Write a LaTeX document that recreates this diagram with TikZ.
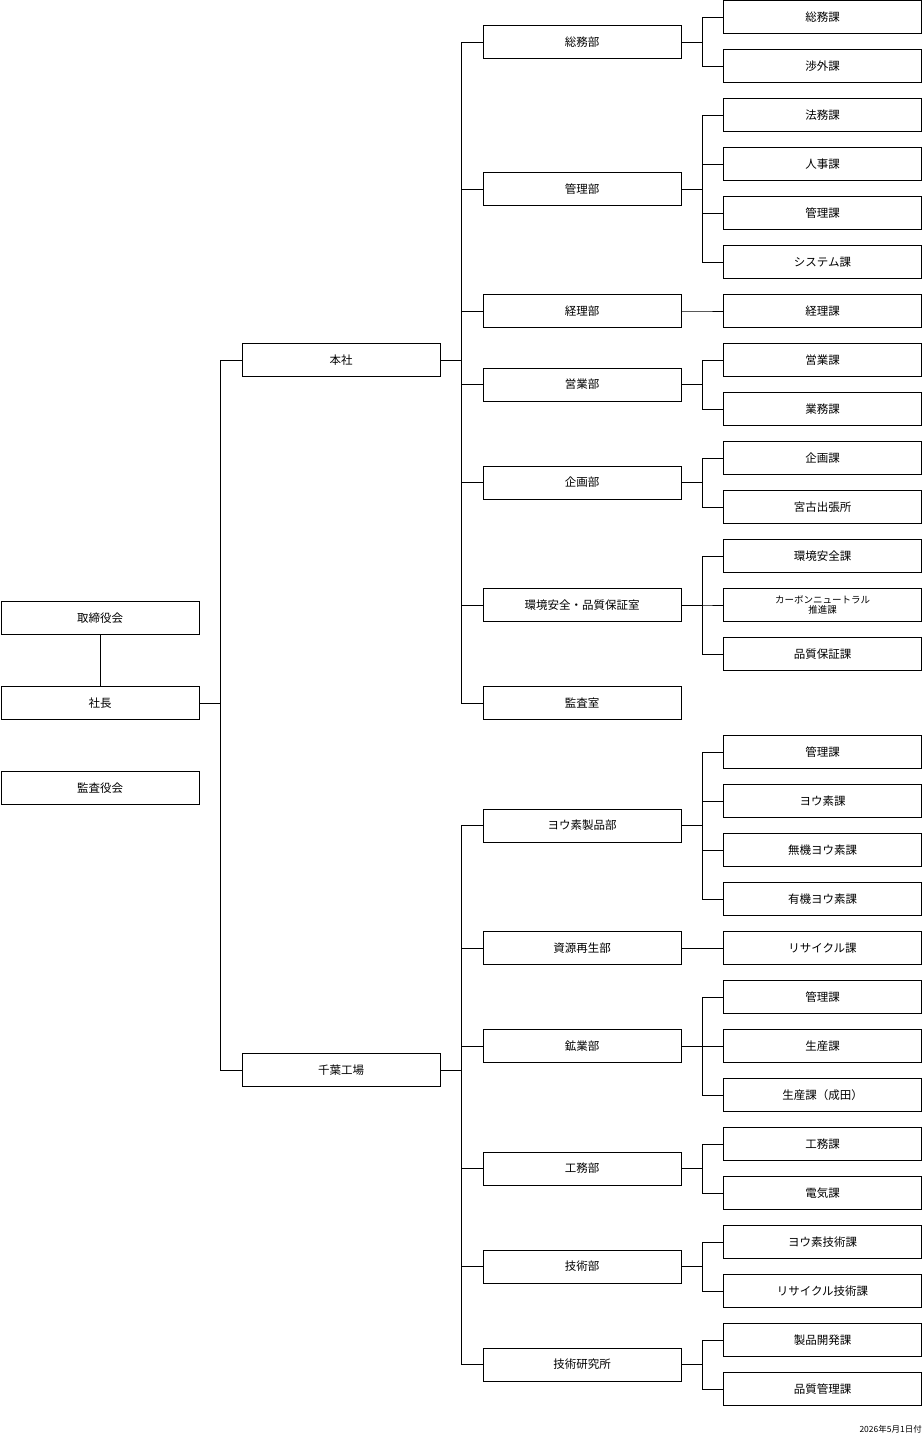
\documentclass[tikz,border=0pt]{standalone}
\usepackage{fontspec}
\setmainfont{Noto Sans CJK JP}
\begin{document}
\begin{tikzpicture}[x=1pt,y=1pt,
  box/.style={draw,line width=0.8pt,inner sep=0pt,minimum width=198pt,minimum height=33pt,font=\fontsize{11.5}{13}\selectfont},
  conn/.style={line width=0.8pt}]
\useasboundingbox (0,0) rectangle (923,-1435);
% column 1
\node[box] (torishimari) at (100,-618) {取締役会};
\node[box] (shacho) at (100,-703) {社長};
\node[box] (kansayaku) at (100,-788) {監査役会};
% column 2
\node[box] (honsha) at (341,-360) {本社};
\node[box] (chiba) at (341,-1070) {千葉工場};
% column 3
\foreach \n/\y/\t in {a/42/総務部, b/189/管理部, c/311/経理部, d/384.5/営業部, e/482.5/企画部, f/605/環境安全・品質保証室, g/703/監査室, h/825.5/ヨウ素製品部, i/948/資源再生部, j/1046/鉱業部, k/1168.5/工務部, l/1266.5/技術部, m/1364.5/技術研究所}
  \node[box] (p\n) at (582,-\y) {\t};
% column 4
\foreach \n/\t in {0/総務課,1/渉外課,2/法務課,3/人事課,4/管理課,5/システム課,6/経理課,7/営業課,8/業務課,9/企画課,10/宮古出張所,11/環境安全課,13/品質保証課,15/管理課,16/ヨウ素課,17/無機ヨウ素課,18/有機ヨウ素課,19/リサイクル課,20/管理課,21/生産課,22/生産課（成田）,23/工務課,24/電気課,25/ヨウ素技術課,26/リサイクル技術課,27/製品開発課,28/品質管理課}
  \node[box] (r\n) at (822.5,{-17-49*\n}) {\t};
\node[box,align=center,font=\fontsize{9.5}{10.5}\selectfont] (r12) at (822.5,{-17-49*12}) {カーボンニュートラル\\推進課};
% connectors
\draw[conn] (torishimari) -- (shacho);
\foreach \c in {honsha,chiba} \draw[conn] (shacho.east) -- ++(21,0) |- (\c.west);
\foreach \c in {a,b,c,d,e,f,g} \draw[conn] (honsha.east) -- ++(21,0) |- (p\c.west);
\foreach \c in {h,i,j,k,l,m} \draw[conn] (chiba.east) -- ++(21,0) |- (p\c.west);
\foreach \p/\cs in {a/{0,1}, b/{2,3,4,5}, c/{6}, d/{7,8}, e/{9,10}, f/{11,12,13}, h/{15,16,17,18}, i/{19}, j/{20,21,22}, k/{23,24}, l/{25,26}, m/{27,28}}
  \foreach \c in \cs \draw[conn] (p\p.east) -- ++(21,0) |- (r\c.west);
\node[anchor=south east,inner sep=0pt,font=\fontsize{8.5}{10}\selectfont] (date) at (922,-1433) {2026年5月1日付};
\end{tikzpicture}
\end{document}
